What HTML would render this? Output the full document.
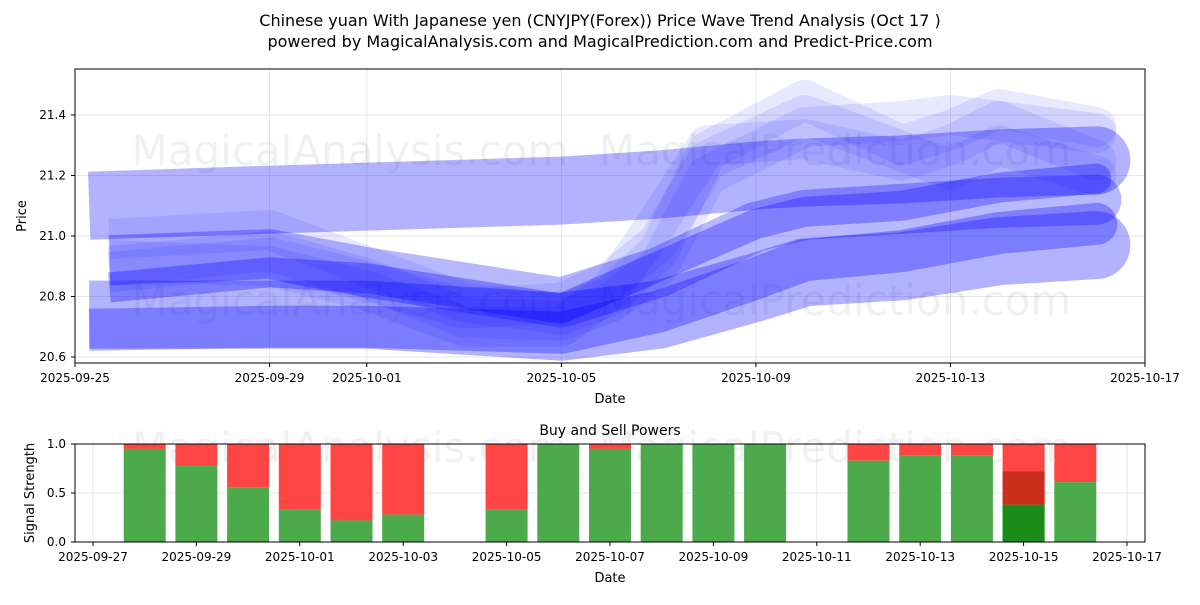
<!DOCTYPE html>
<html><head><meta charset="utf-8"><style>
body{margin:0;background:#fff;font-family:"Liberation Sans","DejaVu Sans",sans-serif}
svg text{font-family:"DejaVu Sans","Liberation Sans",sans-serif}
</style></head><body>
<svg id="c" width="1200" height="600" xmlns="http://www.w3.org/2000/svg">
<text x="600" y="26" text-anchor="middle" font-size="16">Chinese yuan With Japanese yen (CNYJPY(Forex)) Price Wave Trend Analysis (Oct 17 )</text>
<text x="600" y="47" text-anchor="middle" font-size="16">powered by MagicalAnalysis.com and MagicalPrediction.com and Predict-Price.com</text>
<g id="main"></g><g id="sub"></g>
</svg>
<script>
// ---- data ----
const datesA = ["2025-09-25T07:00Z","2025-09-29","2025-10-01","2025-10-05","2025-10-07","2025-10-09","2025-10-10","2025-10-12","2025-10-14","2025-10-16"];
const bandTop    = [21.10,21.12,21.13,21.15,21.17,21.20,21.21,21.22,21.24,21.25];
const bandLow    = [20.74,20.74,20.74,20.70,20.74,20.83,20.88,20.90,20.95,20.97];
const bandLowNar = [20.69,20.70,20.70,20.68,20.75,20.86,20.92,20.95,21.01,21.04];
const datesC = ["2025-09-25T17:00Z","2025-09-29","2025-10-01","2025-10-05","2025-10-07","2025-10-09","2025-10-10","2025-10-12","2025-10-14","2025-10-16"];
const bandMid    = [20.92,20.94,20.88,20.78,20.88,21.03,21.07,21.09,21.11,21.12];
const bandMidNar = [20.83,20.88,20.86,20.76,20.90,21.04,21.08,21.10,21.16,21.19];
const waveDates = ["2025-09-25T17:00Z","2025-09-29","2025-10-01","2025-10-03","2025-10-05","2025-10-06","2025-10-07","2025-10-08","2025-10-10","2025-10-12","2025-10-13","2025-10-14","2025-10-16"];
const wave1 = [20.99,21.02,20.90,20.78,20.74,20.80,20.95,21.28,21.45,21.30,21.35,21.42,21.36];
const wave2 = [20.90,20.95,20.86,20.73,20.72,20.78,20.90,21.20,21.36,21.38,21.40,21.38,21.34];
const wave3 = [20.88,20.93,20.85,20.76,20.78,20.85,20.98,21.25,21.40,21.28,21.22,21.30,21.20];
const wave4 = [20.92,20.90,20.82,20.70,20.70,20.82,21.05,21.30,21.32,21.25,21.30,21.38,21.25];
const yTicks = [20.6,20.8,21.0,21.2,21.4];
const xTicks = ["2025-09-25","2025-09-29","2025-10-01","2025-10-05","2025-10-09","2025-10-13","2025-10-17"];
const barDates = ["2025-09-28","2025-09-29","2025-09-30","2025-10-01","2025-10-02","2025-10-03","2025-10-05","2025-10-06","2025-10-07","2025-10-08","2025-10-09","2025-10-10","2025-10-12","2025-10-13","2025-10-14","2025-10-15","2025-10-16"];
const buyPower = [0.95,0.78,0.56,0.33,0.22,0.28,0.33,1.0,0.95,1.0,1.0,1.0,0.83,0.88,0.88,0.38,0.61];
const subXTicks = ["2025-09-27","2025-09-29","2025-10-01","2025-10-03","2025-10-05","2025-10-07","2025-10-09","2025-10-11","2025-10-13","2025-10-15","2025-10-17"];
const subYTicks = [0.0,0.5,1.0];

const NS="http://www.w3.org/2000/svg";
function mk(tag,attrs,parent){const e=document.createElementNS(NS,tag);for(const k in attrs)e.setAttribute(k,attrs[k]);parent.appendChild(e);return e;}
const day=s=>Date.parse(s)/86400000;
const d0=day("2025-09-25"),d1=day("2025-10-17");
const X=s=>75+(day(s)-d0)/(d1-d0)*1070;
const Y=v=>357-(v-20.6)/0.2*60.5;
const main=document.getElementById("main");

let clip=mk("clipPath",{id:"cm"},main);mk("rect",{x:75,y:69,width:1070,height:294},clip);
yTicks.forEach(v=>{let l=mk("line",{x1:75,x2:1145,y1:Y(v),y2:Y(v),stroke:"#e6e6e6"},main);
});
xTicks.forEach(s=>{let l=mk("line",{x1:X(s),x2:X(s),y1:69,y2:363,stroke:"#e6e6e6"},main);
});
[[350,150],[835,150],[350,300],[835,300]].forEach((p,i)=>{let t=mk("text",{x:p[0],y:p[1]+15,"text-anchor":"middle","font-size":42,fill:"#000","fill-opacity":0.06},main);t.textContent=i%2?"MagicalPrediction.com":"MagicalAnalysis.com";
});
const g=mk("g",{"clip-path":"url(#cm)"},main);
function band(dates,vals,w,op,name,cap){const pts=dates.map((d,i)=>X(d)+","+Y(vals[i])).join(" ");
let p=mk("polyline",{points:pts,fill:"none",stroke:"#0000ff","stroke-opacity":op,"stroke-width":w,"stroke-linejoin":"round","stroke-linecap":"butt"},g);

if(cap){let c=mk("path",{d:"",fill:"#0000ff","fill-opacity":op},g);
const n=dates.length,x2=X(dates[n-1]),y2=Y(vals[n-1]),x1=X(dates[n-2]),y1=Y(vals[n-2]);
const a=Math.atan2(y2-y1,x2-x1),r=w/2;
const px=Math.sin(a)*r,py=-Math.cos(a)*r;
c.setAttribute("d",`M${x2+px},${y2+py} A${r},${r} 0 0 1 ${x2-px},${y2-py} Z`);
}}
band(datesA,bandTop,68,0.3,"band-top",true);
band(datesA,bandLow,68,0.3,"band-low",true);
band(datesA,bandLowNar,42,0.3,"band-low-narrow",true);
band(datesC,bandMid,50,0.28,"band-mid",true);
band(datesC,bandMidNar,30,0.3,"band-mid-narrow",true);
band(waveDates,wave1,40,0.09,"wave-1",true);
band(waveDates,wave2,40,0.09,"wave-2",true);
band(waveDates,wave3,40,0.09,"wave-3",true);
band(waveDates,wave4,40,0.09,"wave-4",true);
let fr=mk("rect",{x:75,y:69,width:1070,height:294,fill:"none",stroke:"#000"},main);

yTicks.forEach(v=>{mk("line",{x1:71,x2:75,y1:Y(v),y2:Y(v),stroke:"#000"},main);
let t=mk("text",{x:66,y:Y(v)+4,"text-anchor":"end","font-size":12},main);t.textContent=v.toFixed(1);
});
xTicks.forEach(s=>{mk("line",{x1:X(s),x2:X(s),y1:363,y2:367,stroke:"#000"},main);
let t=mk("text",{x:X(s),y:382,"text-anchor":"middle","font-size":12},main);t.textContent=s;
});
let xl=mk("text",{x:610,y:403,"text-anchor":"middle","font-size":13},main);xl.textContent="Date";

let yl=mk("text",{x:26,y:216,"text-anchor":"middle","font-size":13,transform:"rotate(-90 26 216)"},main);yl.textContent="Price";


// ---- sub chart ----
const sub=document.getElementById("sub");
const s0=day("2025-09-27");
const SX=s=>93+(day(s)-s0)*51.7;
const SY=v=>542-v*98;
subYTicks.forEach(v=>{mk("line",{x1:75,x2:1145,y1:SY(v),y2:SY(v),stroke:"#e6e6e6"},sub);});
subXTicks.forEach(s=>{mk("line",{x1:SX(s),x2:SX(s),y1:444,y2:542,stroke:"#e6e6e6"},sub);});
let wm=mk("text",{x:350,y:462,"text-anchor":"middle","font-size":42,"fill-opacity":0.06},sub);wm.textContent="MagicalAnalysis.com";

let wm2=mk("text",{x:835,y:462,"text-anchor":"middle","font-size":42,"fill-opacity":0.06},sub);wm2.textContent="MagicalPrediction.com";

barDates.forEach((d,i)=>{const x=SX(d)-21,b=buyPower[i];
let r=mk("rect",{x:x,y:SY(1),width:42,height:SY(b)-SY(1),fill:"#ff4444"},sub);

let gr=mk("rect",{x:x,y:SY(b),width:42,height:SY(0)-SY(b),fill:"#4caa4c"},sub);

if(d==="2025-10-15"){let o=mk("rect",{x:x,y:SY(0.72),width:42,height:SY(b)-SY(0.72),fill:"#c8301c"},sub);
let o2=mk("rect",{x:x,y:SY(b),width:42,height:SY(0)-SY(b),fill:"#1a8c1a"},sub);}
});
let sf=mk("rect",{x:75,y:444,width:1070,height:98,fill:"none",stroke:"#000"},sub);

subYTicks.forEach(v=>{mk("line",{x1:71,x2:75,y1:SY(v),y2:SY(v),stroke:"#000"},sub);
let t=mk("text",{x:66,y:SY(v)+4,"text-anchor":"end","font-size":12},sub);t.textContent=v.toFixed(1);
});
subXTicks.forEach(s=>{mk("line",{x1:SX(s),x2:SX(s),y1:542,y2:546,stroke:"#000"},sub);
let t=mk("text",{x:SX(s),y:561,"text-anchor":"middle","font-size":12},sub);t.textContent=s;
});
let st=mk("text",{x:610,y:435,"text-anchor":"middle","font-size":14},sub);st.textContent="Buy and Sell Powers";

let sx=mk("text",{x:610,y:582,"text-anchor":"middle","font-size":13},sub);sx.textContent="Date";

let sy=mk("text",{x:34,y:493,"text-anchor":"middle","font-size":13,transform:"rotate(-90 34 493)"},sub);sy.textContent="Signal Strength";

</script>
</body></html>
